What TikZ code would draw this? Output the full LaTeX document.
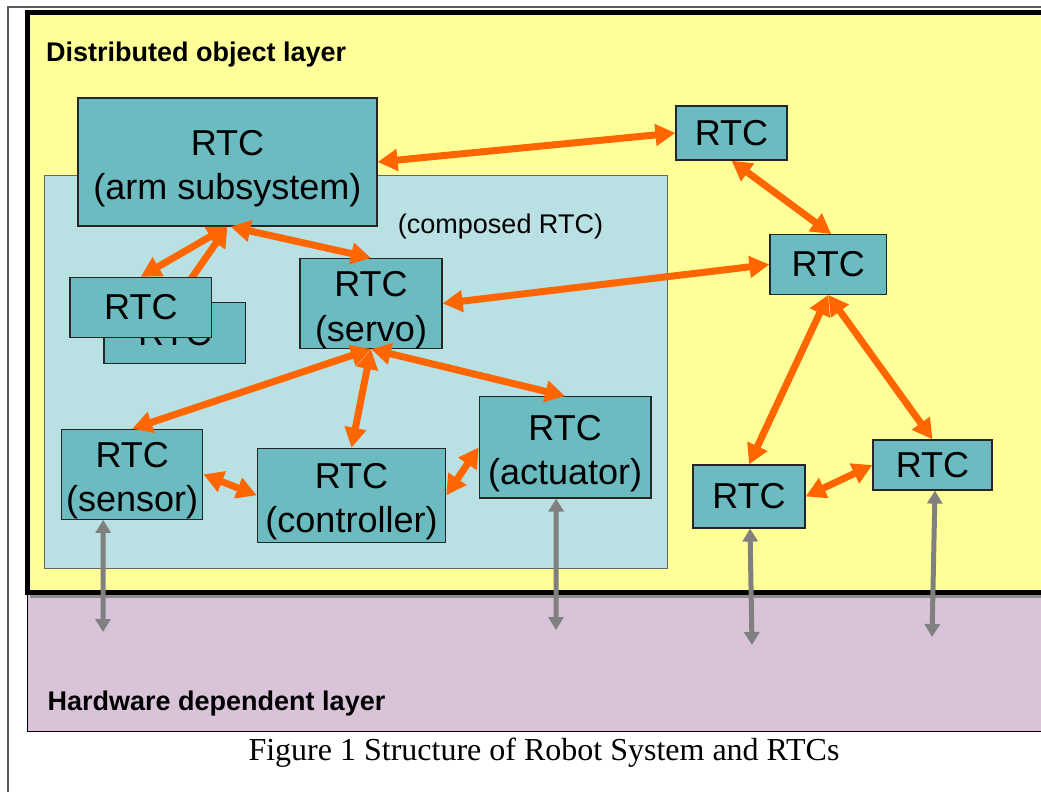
\documentclass[tikz,border=0pt]{standalone}
\usepackage{fontspec}
\setmainfont{Liberation Sans}
\newfontfamily\capfont{Liberation Serif}
\usetikzlibrary{arrows.meta}
\definecolor{yel}{HTML}{FFFF99}
\definecolor{purp}{HTML}{D9C3D9}
\definecolor{lblue}{HTML}{B9E0E3}
\definecolor{rtcfill}{HTML}{6BBBC1}
\definecolor{orng}{HTML}{FF6600}
\definecolor{garrow}{HTML}{808080}
\newcommand{\tstrut}{\rule{0pt}{38pt}}
\begin{document}
\begin{tikzpicture}[x=1pt,y=-1pt,
  rtc/.style={draw=black!85, line width=1.2pt, fill=rtcfill, align=center, inner sep=0pt,
    font=\fontsize{36}{44.5}\selectfont},
  oarr/.style={draw=orng, line width=7pt,
    {Triangle[length=20pt,width=21pt]}-{Triangle[length=20pt,width=21pt]}},
  garr/.style={draw=garrow, line width=5pt,
    {Triangle[length=13pt,width=15pt]}-{Triangle[length=13pt,width=15pt]}},
  lbl/.style={inner sep=0pt, anchor=base west, font=\bfseries\fontsize{27}{32}\selectfont}
]
\useasboundingbox (0,0) rectangle (1041,792);
\clip (0,0) rectangle (1041,792);
\fill[white] (0,0) rectangle (1041,792);
% outer frame
\draw[line width=1.5pt, black!65] (8,800) -- (8,7) -- (1060,7);
% hardware layer
\draw[fill=purp, line width=1pt, draw=black] (27,590) rectangle (1060,731);
% shadow line
\draw[line width=3pt, black!45] (30,596.5) -- (1060,596.5);
% distributed object layer
\draw[fill=yel, line width=5pt, draw=black] (27.5,12.5) rectangle (1070,592.5);
% composed box
\draw[fill=lblue, line width=1pt, draw=black!60] (44.5,175) rectangle (667.5,568);
\node[lbl] (dol) at (46,61.7) {Distributed object layer};
\node[lbl] (hdl) at (47.5,710.7) {Hardware dependent layer};
\node[inner sep=0pt, anchor=base, font=\fontsize{27}{32}\selectfont] (comp) at (500.5,233) {(composed RTC)};
\node[inner sep=0pt, anchor=base, font=\capfont\fontsize{32}{38}\selectfont] (cap) at (544,760.7) {Figure 1 Structure of Robot System and RTCs};

% nodes
\node[rtc, minimum width=299pt, minimum height=128pt] (arm) at (227.5,162) {\tstrut RTC\\(arm subsystem)};
\node[rtc, minimum width=111pt, minimum height=54pt] (topR) at (731.5,133) {RTC};
\node[rtc, minimum width=116.5pt, minimum height=59.6pt] (mid) at (828.25,264.5) {RTC};
\node[rtc, minimum width=142pt, minimum height=87pt] (servo) at (371,303.5) {\tstrut RTC\\(servo)};
\node[rtc, minimum width=141.7pt, minimum height=60.6pt] (back) at (174.85,333) {RTC};
\draw[oarr] (arm.south) -- (back.north);
\node[rtc, minimum width=141.7pt, minimum height=60pt] (front) at (140.85,307.3) {RTC};
\node[rtc, minimum width=141pt, minimum height=85.3pt] (sensor) at (132.2,474.35) {\tstrut RTC\\(sensor)};
\node[rtc, minimum width=188.4pt, minimum height=94pt] (ctrl) at (351.5,495.3) {\tstrut RTC\\(controller)};
\node[rtc, minimum width=171.7pt, minimum height=101.3pt] (act) at (565.15,447.35) {\tstrut RTC\\(actuator)};
\node[rtc, minimum width=112pt, minimum height=63pt] (bl) at (749,496.5) {RTC};
\node[rtc, minimum width=119pt, minimum height=50pt] (br) at (932.5,465) {RTC};

% orange connectors
\draw[oarr] (arm.east) -- (topR.west);
\draw[oarr] (topR.south) -- ([xshift=3pt]mid.north);
\draw[oarr] (servo.east) -- (mid.west);
\draw[oarr] ([xshift=3pt]arm.south) -- (servo.north);
\draw[oarr] (arm.south) -- (front.north);
\draw[oarr] (servo.south) -- (sensor.north);
\draw[oarr] (servo.south) -- (ctrl.north);
\draw[oarr] (servo.south) -- (act.north);
\draw[oarr] (sensor.east) -- (ctrl.west);
\draw[oarr] (ctrl.east) -- (act.west);
\draw[oarr] (mid.south) -- (bl.north);
\draw[oarr] (mid.south) -- (br.north);
\draw[oarr] (bl.east) -- (br.west);

% grey connectors
\coordinate (g1) at (103,632);
\coordinate (g2) at (556,630);
\coordinate (g3) at (752,645);
\coordinate (g4) at (932,637);
\draw[garr] ([xshift=-29pt]sensor.south) -- (g1);
\draw[garr] ([xshift=-9pt]act.south) -- (g2);
\draw[garr] ([xshift=1pt]bl.south) -- (g3);
\draw[garr] ([xshift=2.5pt]br.south) -- (g4);
\end{tikzpicture}
\end{document}
